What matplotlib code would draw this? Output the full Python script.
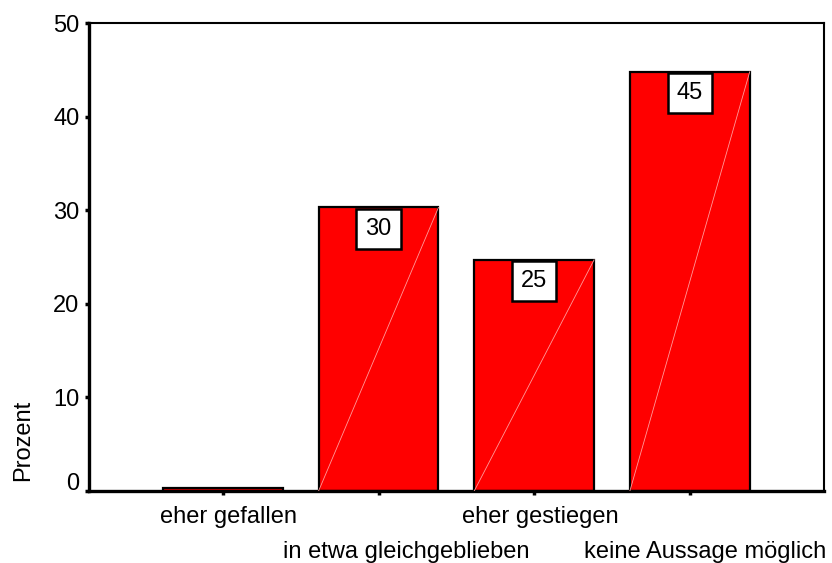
import matplotlib
matplotlib.use("Agg")
import matplotlib.pyplot as plt
import matplotlib.transforms as mtransforms
import numpy as np

plt.rcParams['font.family'] = ['Liberation Sans', 'DejaVu Sans']

categories = ['eher gefallen', 'in etwa gleichgeblieben', 'eher gestiegen', 'keine Aussage möglich']
values = [0.3, 30.3, 24.7, 44.8]
shown = ['', '30', '25', '45']
yticks = [0, 10, 20, 30, 40, 50]
# SPSS nudges the category labels to the right of their ticks (pixels)
label_shift = [6, 28, 6, 15]

fig = plt.figure(figsize=(8.32, 5.63), dpi=100)
ax = fig.add_axes([0.107, 0.128, 0.883, 0.831])

x = np.arange(len(categories))
w = 0.77
ax.bar(x, values, width=w, color='#ff0000', edgecolor='black', linewidth=1.6, zorder=2)

# faint diagonal seen inside the bars
for xi, v in zip(x, values):
    if v > 1:
        ax.plot([xi - w / 2, xi + w / 2], [0, v], color='#ff9a9a', lw=0.6, zorder=3)

# value boxes hanging from the bar tops
for xi, v, s in zip(x, values, shown):
    if s:
        ax.annotate(s, xy=(xi, v), xytext=(0, -7.6), textcoords='offset points',
                    ha='center', va='top', fontsize=17, zorder=4,
                    bbox=dict(boxstyle='square,pad=0.38', fc='white', ec='black', lw=1.8))

ax.set_xlim(-0.86, 3.86)
ax.set_ylim(0, 50)
ax.set_yticks(yticks)
ax.set_xticks(x)
ax.set_xticklabels(categories, fontsize=17)
ax.tick_params(axis='y', labelsize=17, length=3, width=2.5, pad=4)
ax.tick_params(axis='x', length=3, width=2.5, pad=8)

# staggered category labels
for i, t in enumerate(ax.xaxis.get_major_ticks()):
    if i % 2 == 1:
        t.set_pad(33)

for lbl, dx in zip(ax.get_xticklabels(), label_shift):
    lbl.set_transform(lbl.get_transform() + mtransforms.ScaledTranslation(dx / 100, 0, fig.dpi_scale_trans))

# SPSS lifts the zero label a bit
lbl0 = ax.get_yticklabels()[0]
lbl0.set_transform(lbl0.get_transform() + mtransforms.ScaledTranslation(0, 9 / 100, fig.dpi_scale_trans))

ax.spines['left'].set_linewidth(2.4)
ax.spines['bottom'].set_linewidth(2.4)
ax.spines['top'].set_linewidth(1.5)
ax.spines['right'].set_linewidth(1.5)

fig.text(23 / 832, 1 - 440 / 563, 'Prozent', rotation=90, fontsize=17, ha='center', va='center')

fig.savefig('out.png', dpi=100)
